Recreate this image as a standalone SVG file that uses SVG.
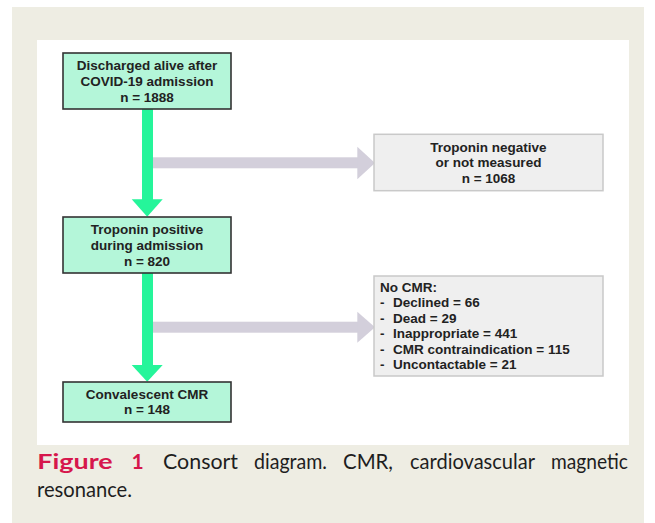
<svg xmlns="http://www.w3.org/2000/svg" width="655" height="523" viewBox="0 0 655 523">
<style>
.t{font-family:"Liberation Sans",Arial,sans-serif;font-weight:bold;font-size:13.5px;fill:#222}
.c{text-anchor:middle}
.mint{fill:#b4f6d9;stroke:#333;stroke-width:1.6}
.gbox{fill:#efefef;stroke:#c9c9c9;stroke-width:1.5}
.green{fill:#25f59a}
.gray{fill:#d3cfdb}
.cap{font-family:Lato,"Liberation Sans",sans-serif;font-size:21px;fill:#1e1e1e}
.capb{font-family:Lato,"Liberation Sans",sans-serif;font-size:21px;font-weight:bold;fill:#d6174c}
</style>
<rect x="0" y="0" width="655" height="523" fill="#ffffff"/>
<rect x="12" y="7" width="632" height="516" fill="#eeede3"/>
<rect x="37" y="40" width="592" height="405" fill="#ffffff"/>

<g id="connectors">
  <rect class="gray" x="150" y="157.3" width="208" height="11"/>
  <polygon class="gray" points="357.3,146.7 357.3,179.3 375,163"/>
  <rect class="gray" x="150" y="321.7" width="208" height="11"/>
  <polygon class="gray" points="357.3,311.7 357.3,342.7 375,327.2"/>
  <rect class="green" x="142" y="109" width="11" height="91"/>
  <polygon class="green" points="131.7,199.3 162.7,199.3 147.2,216.7"/>
  <rect class="green" x="142" y="273" width="11" height="93"/>
  <polygon class="green" points="131.7,365 162.7,365 147.2,381.7"/>
</g>

<g id="node-discharged">
  <rect class="mint" x="63" y="53" width="168" height="56"/>
  <text class="t c" x="147" y="70">Discharged alive after</text>
  <text class="t c" x="147" y="85.7">COVID-19 admission</text>
  <text class="t c" x="147" y="101.5">n = 1888</text>
</g>

<g id="node-troponin-negative">
  <rect class="gbox" x="374" y="134.3" width="229" height="56.4"/>
  <text class="t c" x="488.5" y="151.7">Troponin negative</text>
  <text class="t c" x="488.5" y="167.3">or not measured</text>
  <text class="t c" x="488.5" y="183">n = 1068</text>
</g>

<g id="node-troponin-positive">
  <rect class="mint" x="63" y="217" width="168" height="56"/>
  <text class="t c" x="147" y="234.3">Troponin positive</text>
  <text class="t c" x="147" y="250">during admission</text>
  <text class="t c" x="147" y="265.5">n = 820</text>
</g>

<g id="node-no-cmr">
  <rect class="gbox" x="374" y="276" width="229" height="100"/>
  <text class="t" x="380" y="291.7">No CMR:</text>
  <text class="t" x="380" y="307.2">-</text><text class="t" x="393" y="307.2">Declined = 66</text>
  <text class="t" x="380" y="322.7">-</text><text class="t" x="393" y="322.7">Dead = 29</text>
  <text class="t" x="380" y="338.2">-</text><text class="t" x="393" y="338.2">Inappropriate = 441</text>
  <text class="t" x="380" y="353.7">-</text><text class="t" x="393" y="353.7">CMR contraindication = 115</text>
  <text class="t" x="380" y="369.2">-</text><text class="t" x="393" y="369.2">Uncontactable = 21</text>
</g>

<g id="node-convalescent">
  <rect class="mint" x="63" y="382" width="168" height="40"/>
  <text class="t c" x="147" y="399.3">Convalescent CMR</text>
  <text class="t c" x="147" y="414">n = 148</text>
</g>

<g id="caption">
  <text class="capb" x="37.3" y="469" textLength="75.4" lengthAdjust="spacingAndGlyphs">Figure</text>
  <text class="capb" x="137.5" y="469" text-anchor="middle">1</text>
  <text class="cap" x="163" y="469" textLength="75" lengthAdjust="spacingAndGlyphs">Consort</text>
  <text class="cap" x="254" y="469" textLength="73" lengthAdjust="spacingAndGlyphs">diagram.</text>
  <text class="cap" x="343" y="469" textLength="50" lengthAdjust="spacingAndGlyphs">CMR,</text>
  <text class="cap" x="410" y="469" textLength="125" lengthAdjust="spacingAndGlyphs">cardiovascular</text>
  <text class="cap" x="551" y="469" textLength="77" lengthAdjust="spacingAndGlyphs">magnetic</text>
  <text class="cap" x="37" y="497" textLength="95" lengthAdjust="spacingAndGlyphs">resonance.</text>
</g>
</svg>
